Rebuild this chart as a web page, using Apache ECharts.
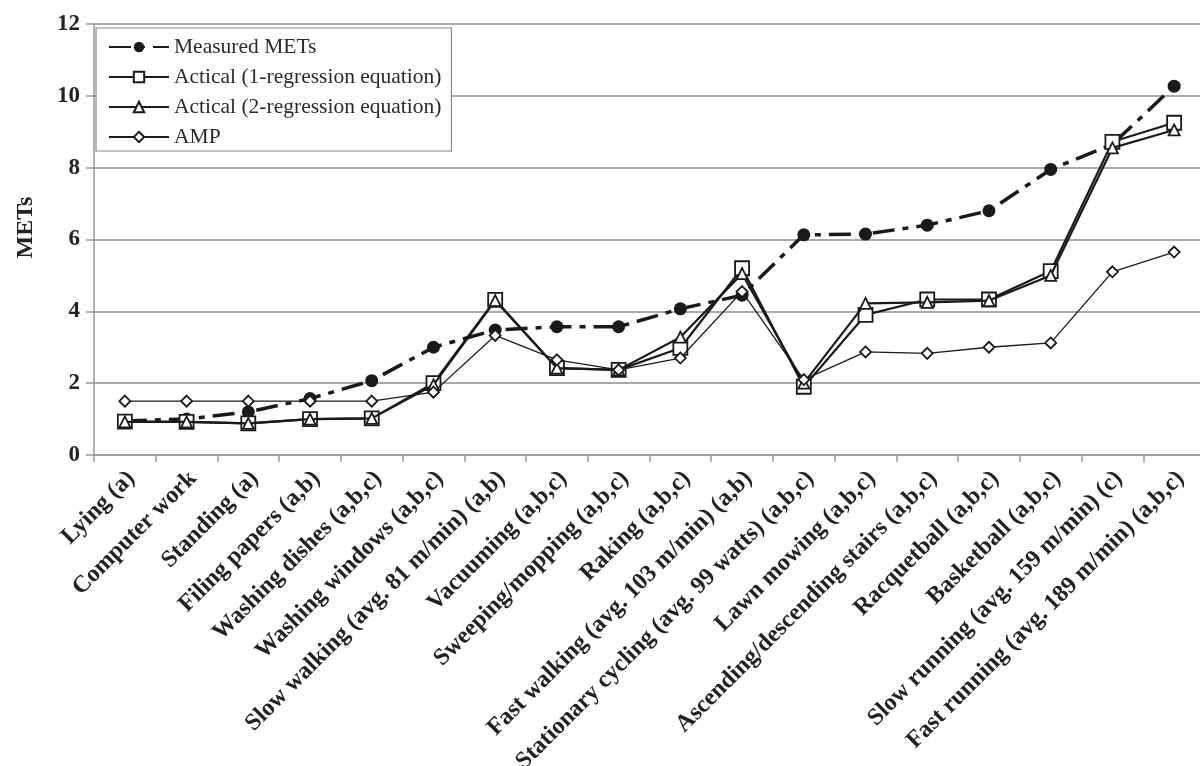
<!DOCTYPE html>
<html>
<head>
<meta charset="utf-8">
<script src="https://cdn.jsdelivr.net/npm/echarts@6/dist/echarts.min.js"></script>
<style>
  html, body { margin: 0; padding: 0; background: #fff; }
  #chart { width: 1200px; height: 766px; }
</style>
</head>
<body>
<div id="chart"></div>
<script>
// Activities, in order of increasing measured intensity
const activities = [
  'Lying (a)', 'Computer work', 'Standing (a)', 'Filing papers (a,b)',
  'Washing dishes (a,b,c)', 'Washing windows (a,b,c)',
  'Slow walking (avg. 81 m/min) (a,b)', 'Vacuuming (a,b,c)',
  'Sweeping/mopping (a,b,c)', 'Raking (a,b,c)',
  'Fast walking (avg. 103 m/min) (a,b)',
  'Stationary cycling (avg. 99 watts) (a,b,c)', 'Lawn mowing (a,b,c)',
  'Ascending/descending stairs (a,b,c)', 'Racquetball (a,b,c)',
  'Basketball (a,b,c)', 'Slow running (avg. 159 m/min) (c)',
  'Fast running (avg. 189 m/min) (a,b,c)'
];

// MET values per activity
const measuredMETs = [0.95, 1.0, 1.2, 1.57, 2.07, 3.0, 3.48, 3.57, 3.57, 4.07, 4.45, 6.13, 6.15, 6.4, 6.8, 7.95, 8.65, 10.27];
const actical1Reg  = [0.93, 0.92, 0.88, 1.0, 1.02, 2.0, 4.32, 2.42, 2.37, 2.98, 5.2, 1.9, 3.9, 4.33, 4.33, 5.12, 8.72, 9.25];
const actical2Reg  = [0.92, 0.92, 0.88, 1.0, 1.02, 1.95, 4.3, 2.42, 2.37, 3.28, 5.05, 2.0, 4.22, 4.25, 4.3, 5.0, 8.55, 9.05];
const ampValues    = [1.5, 1.5, 1.5, 1.5, 1.5, 1.75, 3.33, 2.65, 2.37, 2.7, 4.55, 2.1, 2.87, 2.83, 3.0, 3.12, 5.1, 5.65];

const yTicks = { min: 0, max: 12, interval: 2 };

const serif = '"Liberation Serif", "DejaVu Serif", "Times New Roman", serif';
const ink = '#1a1a1a';

const chart = echarts.init(document.getElementById('chart'), null, { renderer: 'canvas' });

const hollow = { color: '#fff', borderColor: ink, borderWidth: 1.8 };

chart.setOption({
  backgroundColor: '#fff',
  animation: false,
  textStyle: { fontFamily: serif },
  grid: { left: 94, top: 24, width: 1111, height: 431, outerBoundsMode: 'none', containLabel: false },
  legend: {
    orient: 'vertical',
    left: 96, top: 28,
    width: 355,
    padding: [8, 10, 3, 12],
    backgroundColor: '#fff',
    borderColor: '#888',
    borderWidth: 1.2,
    itemWidth: 60,
    itemHeight: 13,
    itemGap: 8,
    textStyle: { fontFamily: serif, fontSize: 21.5, color: '#2a2a2a' },
    data: ['Measured METs', 'Actical (1-regression equation)', 'Actical (2-regression equation)', 'AMP']
  },
  xAxis: {
    type: 'category',
    data: activities,
    boundaryGap: true,
    axisLine: { lineStyle: { color: '#999', width: 1.5 } },
    axisTick: { show: true, interval: 0, length: 7, lineStyle: { color: '#999', width: 1.5 } },
    axisLabel: {
      interval: 0, rotate: 45, margin: 8,
      verticalAlign: 'top', padding: [1, 4, 0, 0],
      fontFamily: serif, fontWeight: 'bold', fontSize: 24, color: '#222'
    }
  },
  yAxis: {
    type: 'value',
    min: yTicks.min, max: yTicks.max, interval: yTicks.interval,
    name: 'METs',
    nameLocation: 'middle',
    nameRotate: 90,
    nameGap: 56,
    nameTextStyle: { fontFamily: serif, fontWeight: 'bold', fontSize: 24, color: '#222', padding: [0, 0, 0, 24] },
    axisLine: { show: true, lineStyle: { color: '#999', width: 1.5 } },
    axisTick: { show: true, length: 8, lineStyle: { color: '#999', width: 1.5 } },
    axisLabel: { margin: 14, fontFamily: serif, fontWeight: 'bold', fontSize: 23, color: '#222' },
    splitLine: { show: true, lineStyle: { color: '#8c8c8c', width: 1.6 } }
  },
  series: [
    {
      name: 'Measured METs', type: 'line', data: measuredMETs,
      symbol: 'circle', symbolSize: 13,
      itemStyle: { color: ink },
      lineStyle: { color: ink, width: 3.5, type: [22, 8, 6, 8] },
      z: 2
    },
    {
      name: 'Actical (1-regression equation)', type: 'line', data: actical1Reg,
      symbol: 'rect', symbolSize: 14,
      itemStyle: hollow,
      lineStyle: { color: ink, width: 2.2 },
      z: 3
    },
    {
      name: 'Actical (2-regression equation)', type: 'line', data: actical2Reg,
      symbol: 'triangle', symbolSize: 11,
      itemStyle: hollow,
      lineStyle: { color: ink, width: 2.2 },
      z: 4
    },
    {
      name: 'AMP', type: 'line', data: ampValues,
      symbol: 'diamond', symbolSize: 11,
      itemStyle: hollow,
      lineStyle: { color: ink, width: 1.3 },
      z: 5
    }
  ]
});
</script>
</body>
</html>
